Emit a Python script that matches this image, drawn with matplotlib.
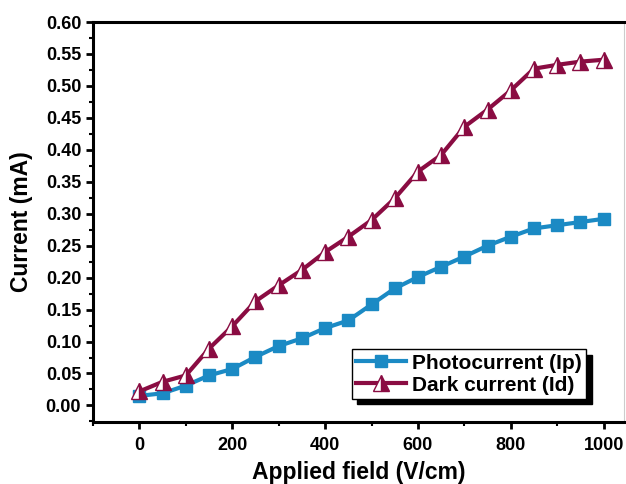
import matplotlib.pyplot as plt
from matplotlib.ticker import MultipleLocator

plt.rcParams['font.family'] = ['Liberation Sans', 'DejaVu Sans']
plt.rcParams['font.weight'] = 'bold'

# applied field (V/cm)
field = [0, 50, 100, 150, 200, 250, 300, 350, 400, 450, 500,
         550, 600, 650, 700, 750, 800, 850, 900, 950, 1000]
# currents (mA)
photo = [0.015, 0.019, 0.031, 0.047, 0.057, 0.076, 0.093, 0.105, 0.121, 0.133, 0.158,
         0.183, 0.201, 0.217, 0.233, 0.250, 0.264, 0.277, 0.282, 0.287, 0.292]
dark = [0.022, 0.037, 0.047, 0.089, 0.124, 0.163, 0.188, 0.212, 0.240, 0.264, 0.290,
        0.324, 0.366, 0.392, 0.436, 0.463, 0.493, 0.527, 0.533, 0.538, 0.541]

blue = '#1b8ac4'
maroon = '#8a0c42'

f = plt.figure(figsize=(6.26, 4.84), dpi=100)
ax = f.add_axes([0.1486, 0.128, 0.849, 0.8265])

ax.plot(field, photo, color=blue, lw=3, marker='s', ms=9, mec=blue, mfc=blue,
        label='Photocurrent (Ip)', zorder=3)
ax.plot(field, dark, color=maroon, lw=3, marker='^', ms=12, mec=maroon, mfc=maroon,
        fillstyle='right', markerfacecoloralt='white', mew=1,
        label='Dark current (Id)', zorder=3)

ax.set_xlim(-100, 1045)
ax.set_ylim(-0.026, 0.60)
ax.xaxis.set_major_locator(MultipleLocator(200))
ax.xaxis.set_minor_locator(MultipleLocator(100))
ax.yaxis.set_major_locator(MultipleLocator(0.05))
ax.yaxis.set_minor_locator(MultipleLocator(0.025))
ax.yaxis.set_major_formatter(plt.FormatStrFormatter('%.2f'))

ax.tick_params(which='major', direction='out', length=5, width=2, labelsize=13)
ax.tick_params(which='minor', direction='out', length=3, width=1.5)
ax.tick_params(axis='x', pad=6)
for s in ['left', 'bottom', 'top']:
    ax.spines[s].set_linewidth(2.2)
ax.spines['right'].set_linewidth(0.8)
ax.spines['right'].set_color('#cccccc')

ax.set_xlabel('Applied field (V/cm)', fontsize=16.5, fontweight='bold', va='center')
ax.xaxis.set_label_coords(0.5, -0.125)
ax.set_ylabel('Current (mA)', fontsize=16.5, fontweight='bold', va='center')
ax.yaxis.set_label_coords(-0.134, 0.5)

leg = ax.legend(loc='lower right', bbox_to_anchor=(0.928, 0.058), fontsize=15,
                shadow={'color': 'black', 'alpha': 1, 'ox': 4, 'oy': -4}, fancybox=False,
                edgecolor='black', handlelength=2.4, borderpad=0.2,
                labelspacing=0.15, handletextpad=0.3, borderaxespad=0.0)
leg.get_frame().set_linewidth(1)

f.savefig('out.png')
